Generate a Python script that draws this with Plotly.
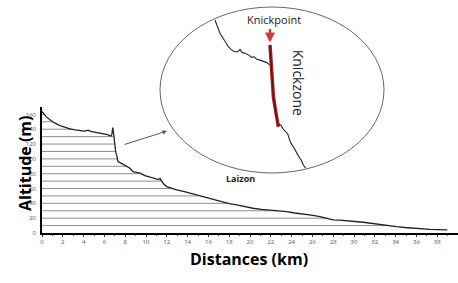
import numpy as np
import plotly.graph_objects as go

# Main longitudinal profile (distance km, altitude m)
dist = [0, 0.13, 0.4, 0.77, 1.2, 1.73, 2.2, 2.69, 3.2, 3.65, 4.1, 4.45, 4.6, 4.8, 5.2, 5.58,
        6.0, 6.3, 6.54, 6.65, 6.72, 6.8, 6.86, 6.92, 7.0, 7.1, 7.18, 7.3, 7.5, 7.8, 8.14, 8.46,
        8.75, 9.1, 9.42, 9.9, 10.38, 10.9, 11.2, 11.35, 11.5, 11.7, 11.99, 12.5, 12.95, 13.6,
        14.23, 15.0, 15.84, 16.6, 17.4, 18.0, 18.72, 19.5, 20.29, 21.1, 21.92, 22.7, 23.53,
        24.3, 25.1, 25.9, 26.73, 27.4, 27.98, 28.6, 29.3, 30.1, 30.87, 31.7, 32.5, 33.3, 34.1,
        34.9, 35.67, 36.5, 37.3, 38.1, 38.9, 38.97]
alt = [164, 161.8, 157, 152.7, 148.5, 145, 142.5, 140.5, 139, 137.8, 137.5, 138.8, 137.3, 136.8,
       136, 135, 134, 132.8, 131.5, 131, 133, 142.3, 137, 128.4, 118, 108, 105.4, 96.4, 95, 92.5,
       89.6, 87.4, 82.8, 82, 80.7, 77.5, 75.3, 73, 72, 73.5, 70, 66, 62.6, 60, 58.1, 56, 53.6, 50,
       46.9, 44, 40.9, 39.5, 37.8, 35.5, 33.4, 32, 31.1, 30, 28.8, 27, 25.7, 24, 22, 20, 17.6,
       17.5, 16.2, 15.5, 14.5, 12.8, 10.8, 9.5, 8.5, 7.4, 6.4, 5.6, 5, 4.5, 4.1, 4.1]

grid_levels = list(range(10, 170, 10))
x_ticks = list(range(0, 41, 2))
y_ticks = list(range(0, 161, 20))

# Inset (zoom on the knickzone)
inset_up_dist = [6.342, 6.356, 6.369, 6.382, 6.396, 6.409, 6.423, 6.436, 6.449, 6.471, 6.497,
                 6.525, 6.543, 6.562, 6.583, 6.610, 6.637, 6.658, 6.677, 6.704, 6.730, 6.758, 6.784]
inset_up_alt = [145.3, 143.5, 141.7, 140.5, 139.5, 138.3, 137.5, 136.6, 135.7, 134.7, 133.8,
                133.8, 134.7, 133.5, 133.3, 132.7, 131.8, 132.0, 131.1, 130.8, 130.4, 129.9, 129.0]
knick_dist = [6.784, 6.792, 6.798, 6.811, 6.830, 6.851]
knick_alt = [136.3, 130.8, 124.8, 117.6, 112.2, 106.7]
inset_down_dist = [6.857, 6.873, 6.891, 6.910, 6.927, 6.937, 6.953, 6.972, 6.991, 7.012, 7.034,
                   7.052, 7.071]
inset_down_alt = [107.7, 107.2, 105.8, 104.9, 104.1, 102.5, 100.7, 99.5, 97.7, 96.2, 94.7,
                  92.9, 91.7]

W, H = 458, 283

# horizontal level lines stop where the profile drops below them
d = np.array(dist); a = np.array(alt)
gx, gy = [], []
for h in grid_levels:
    idx = np.where(a < h)[0]
    if len(idx) == 0 or idx[0] == 0:
        continue
    i = idx[0]
    xc = d[i-1] + (a[i-1] - h) / (a[i-1] - a[i]) * (d[i] - d[i-1])
    gx += [0, xc, None]
    gy += [h, h, None]

fig = go.Figure()
fig.add_trace(go.Scatter(x=gx, y=gy, mode='lines', line=dict(color='#707070', width=0.8),
                         hoverinfo='skip', showlegend=False))
fig.add_trace(go.Scatter(x=dist, y=alt, mode='lines', line=dict(color='#222', width=1.3),
                         showlegend=False))

fig.add_trace(go.Scatter(x=inset_up_dist, y=inset_up_alt, mode='lines', xaxis='x2', yaxis='y2',
                         line=dict(color='#222', width=1.1), showlegend=False))
fig.add_trace(go.Scatter(x=knick_dist, y=knick_alt, mode='lines', xaxis='x2', yaxis='y2',
                         line=dict(color='#a82222', width=3.5), showlegend=False))
fig.add_trace(go.Scatter(x=knick_dist, y=knick_alt, mode='lines', xaxis='x2', yaxis='y2',
                         line=dict(color='#3a0a0a', width=0.8), showlegend=False))
fig.add_trace(go.Scatter(x=inset_down_dist, y=inset_down_alt, mode='lines', xaxis='x2', yaxis='y2',
                         line=dict(color='#222', width=1.1), showlegend=False))

tickfont = dict(family='Open Sans', size=6, color='#555')
fig.update_layout(
    width=W, height=H, margin=dict(l=0, r=0, t=0, b=0),
    paper_bgcolor='white', plot_bgcolor='white',
    xaxis=dict(domain=[42/W, 1], range=[0, 40], tickvals=x_ticks, ticks='outside', ticklen=2,
               tickcolor='#333', tickfont=tickfont, showgrid=False, zeroline=False,
               showline=True, linecolor='black', linewidth=1.5,
               minor=dict(dtick=1, ticks='outside', ticklen=1.5, tickcolor='#555'),
               automargin=False),
    yaxis=dict(domain=[50/H, 176/H], range=[0, 170], tickvals=y_ticks, ticks='', tickfont=tickfont,
               showgrid=False, zeroline=False, showline=True, linecolor='black', linewidth=1.5,
               ticklabelstandoff=3, automargin=False),
    xaxis2=dict(domain=[160/W, 384/W], range=[5.9, 7.7], visible=False, anchor='y2'),
    yaxis2=dict(domain=[110/H, 276/H], range=[90, 150], visible=False, anchor='x2'),
    shapes=[dict(type='circle', xref='paper', yref='paper', x0=160/W, x1=384/W,
                 y0=110/H, y1=276/H, line=dict(color='#555', width=0.9),
                 fillcolor='rgba(0,0,0,0)', layer='above')],
    annotations=[
        dict(text='<b>Altitude (m)</b>', xref='paper', yref='paper', x=12/W, y=(H-163)/H,
             textangle=-90, showarrow=False, font=dict(family='Open Sans', size=16, color='black')),
        dict(text='<b>Distances (km)</b>', xref='paper', yref='paper', x=249/W, y=(H-272)/H,
             showarrow=False, font=dict(family='Open Sans', size=16, color='black')),
        dict(text='Knickpoint', xref='x2', yref='y2', x=6.82, y=145.3, showarrow=False,
             font=dict(family='Open Sans', size=11, color='#222')),
        dict(text='', xref='x2', yref='y2', x=6.784, y=137.2, ax=0, ay=-15, showarrow=True,
             arrowhead=2, arrowsize=0.8, arrowwidth=2.5, arrowcolor='#d03a3a'),
        dict(text='Knickzone', xref='x2', yref='y2', x=7.02, y=122.5, textangle=90,
             showarrow=False, font=dict(family='Open Sans', size=14, color='#222')),
        dict(text='<b>Laizon</b>', xref='paper', yref='paper', x=241/W, y=(H-178)/H,
             showarrow=False, font=dict(family='Open Sans', size=9, color='#222')),
        dict(text='', xref='paper', yref='paper', x=167/W, y=(H-131)/H, ax=-44, ay=14,
             showarrow=True, arrowhead=2, arrowsize=0.9, arrowwidth=1, arrowcolor='#555'),
    ],
)

fig.write_html('out.html', config={'displayModeBar': False},
               post_script="document.body.style.margin='0';")
